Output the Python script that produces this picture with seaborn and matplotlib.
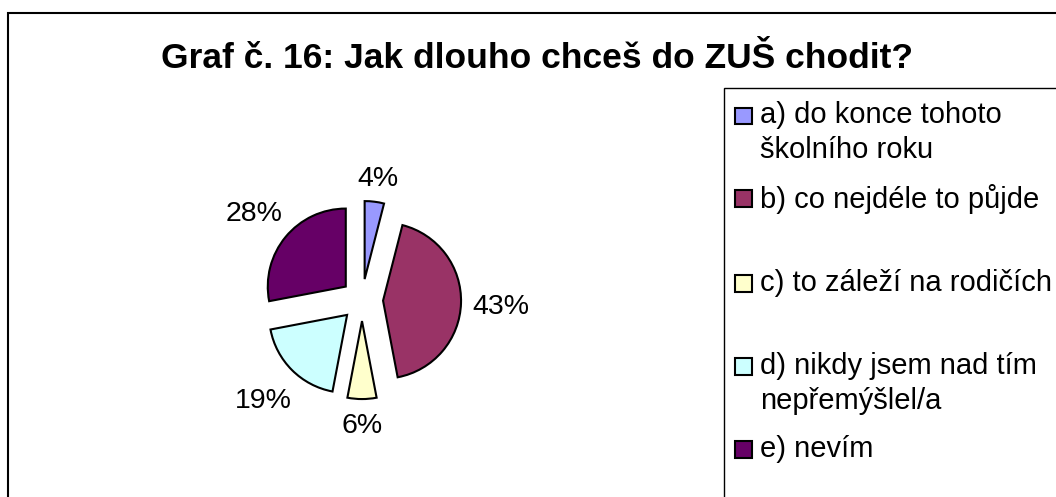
import textwrap
import numpy as np
import matplotlib
matplotlib.use("Agg")
import matplotlib.pyplot as plt
from matplotlib.patches import Rectangle, Wedge
from matplotlib.legend_handler import HandlerPatch
import seaborn as sns

# ---- data ----
title = "Graf č. 16: Jak dlouho chceš do ZUŠ chodit?"
categories = [
    "a) do konce tohoto školního roku",
    "b) co nejdéle to půjde",
    "c) to záleží na rodičích",
    "d) nikdy jsem nad tím nepřemýšlel/a",
    "e) nevím",
]
shares = [4, 43, 6, 19, 28]
colors = ["#9999FF", "#993366", "#FFFFCC", "#CCFFFF", "#660066"]

sns.set_theme(style="white")
plt.rcParams["font.family"] = ["Liberation Sans", "DejaVu Sans"]
palette = sns.color_palette(colors)

W, H = 1056, 497
fig = plt.figure(figsize=(W / 100, H / 100), dpi=100)
fig.patch.set_facecolor("white")

# chart-area frame (runs off the right and bottom edges)
fig.add_artist(Rectangle((8 / W, -0.05), 1.2, 1 - 13 / H + 0.05,
                         transform=fig.transFigure, fill=False,
                         edgecolor="black", linewidth=1.5))

fig.text(537 / W, 1 - 68 / H, title, ha="center", va="baseline",
         fontsize=25.5, fontweight="bold", color="black")

# pie axes
R_PX = 78
cx, cy = 362, H - 300
ax = fig.add_axes([(cx - 2 * R_PX) / W, (cy - 2 * R_PX) / H,
                   4 * R_PX / W, 4 * R_PX / H])
explode = 0.27
wedges, texts, autotexts = ax.pie(
    shares, colors=palette, explode=[explode] * len(shares),
    startangle=90, counterclock=False, autopct="%1.0f%%", pctdistance=1.4,
    wedgeprops=dict(edgecolor="black", linewidth=1.5),
    textprops=dict(fontsize=20.5, color="black"))
ax.set_xlim(-2, 2)
ax.set_ylim(-2, 2)
ax.set_aspect("equal")
ax.axis("off")

# place percentage labels just outside each exploded slice
fig.canvas.draw()
renderer = fig.canvas.get_renderer()
ppu = ax.transData.transform((1, 0))[0] - ax.transData.transform((0, 0))[0]
gap = 0.14
for w, t in zip(wedges, autotexts):
    t.set_verticalalignment("center_baseline")
    mid = np.deg2rad((w.theta1 + w.theta2) / 2)
    c, s = np.cos(mid), np.sin(mid)
    bb = t.get_window_extent(renderer)
    hw, hh = bb.width / 2 / ppu, bb.height / 2 / ppu
    d = explode + 1 + gap + hw * abs(c) + hh * abs(s)
    t.set_position((d * c, d * s))


def wrap_label(s, last):
    lines = textwrap.wrap(s, 24)
    while len(lines) < 2 and not last:
        lines.append(" ")
    return "\n".join(lines)


labels = [wrap_label(c, i == len(categories) - 1)
          for i, c in enumerate(categories)]


def square_at_bottom(legend, orig_handle, xdescent, ydescent, width, height,
                     fontsize):
    return Rectangle((-xdescent, -ydescent), width, width)


# legend frame (runs off the right and bottom edges)
fig.add_artist(Rectangle((724 / W, -0.05), 1.0, 1 - 88 / H + 0.05,
                         transform=fig.transFigure, fill=False,
                         edgecolor="black", linewidth=1.0))

leg = fig.legend(wedges, labels, loc="upper left",
                 bbox_to_anchor=(735 / W, 1 - 101 / H),
                 bbox_transform=fig.transFigure, borderaxespad=0,
                 frameon=False, fontsize=21, labelcolor="black",
                 handlelength=0.58, handleheight=0.86, handletextpad=0.28,
                 borderpad=0, labelspacing=0.69,
                 handler_map={Wedge: HandlerPatch(patch_func=square_at_bottom)})
for t in leg.get_texts():
    t.set_linespacing(1.31)
for col in leg._legend_handle_box.get_children():
    for item in col.get_children():
        item.align = "top"

fig.savefig("out.png", dpi=100, facecolor="white")
